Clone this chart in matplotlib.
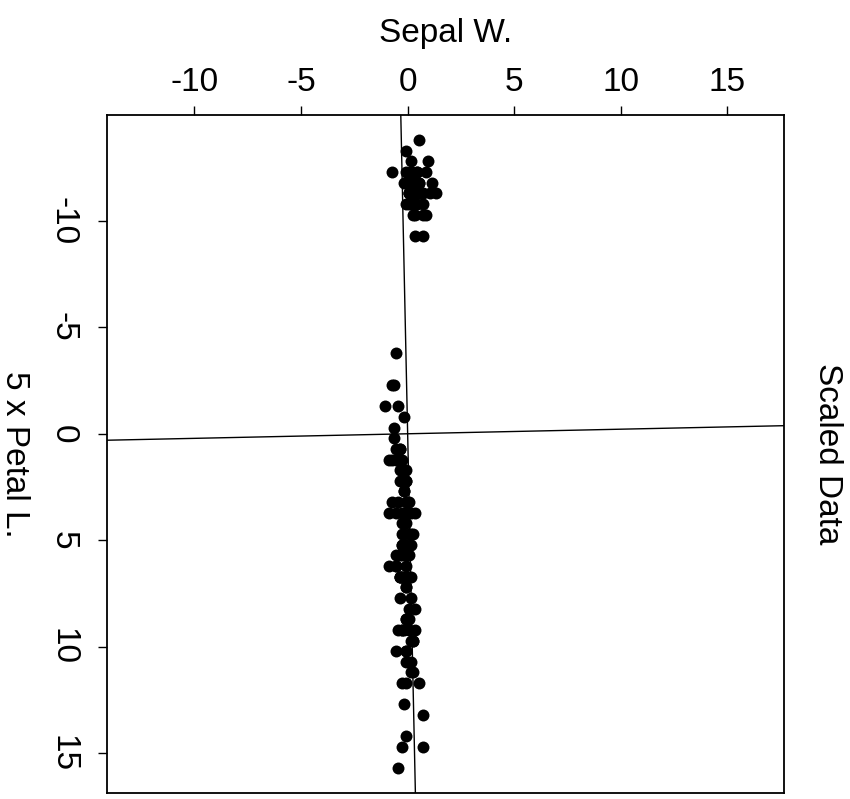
import numpy as np
import matplotlib.pyplot as plt

plt.rcParams['font.family'] = ['Liberation Sans', 'DejaVu Sans']

# iris: Sepal.Width and Petal.Length (cm), 150 flowers
sepal_w = [3.5, 3.0, 3.2, 3.1, 3.6, 3.9, 3.4, 3.4, 2.9, 3.1, 3.7, 3.4, 3.0, 3.0, 4.0, 4.4, 3.9, 3.5, 3.8, 3.8,
           3.4, 3.7, 3.6, 3.3, 3.4, 3.0, 3.4, 3.5, 3.4, 3.2, 3.1, 3.4, 4.1, 4.2, 3.1, 3.2, 3.5, 3.6, 3.0, 3.4,
           3.5, 2.3, 3.2, 3.5, 3.8, 3.0, 3.8, 3.2, 3.7, 3.3,
           3.2, 3.2, 3.1, 2.3, 2.8, 2.8, 3.3, 2.4, 2.9, 2.7, 2.0, 3.0, 2.2, 2.9, 2.9, 3.1, 3.0, 2.7, 2.2, 2.5,
           3.2, 2.8, 2.5, 2.8, 2.9, 3.0, 2.8, 3.0, 2.9, 2.6, 2.4, 2.4, 2.7, 2.7, 3.0, 3.4, 3.1, 2.3, 3.0, 2.5,
           2.6, 3.0, 2.6, 2.3, 2.7, 3.0, 2.9, 2.9, 2.5, 2.8,
           3.3, 2.7, 3.0, 2.9, 3.0, 3.0, 2.5, 2.9, 2.5, 3.6, 3.2, 2.7, 3.0, 2.5, 2.8, 3.2, 3.0, 3.8, 2.6, 2.2,
           3.2, 2.8, 2.8, 2.7, 3.3, 3.2, 2.8, 3.0, 2.8, 3.0, 2.8, 3.8, 2.8, 2.8, 2.6, 3.0, 3.4, 3.1, 3.0, 3.1,
           3.1, 3.1, 2.7, 3.2, 3.3, 3.0, 2.5, 3.0, 3.4, 3.0]
petal_l = [1.4, 1.4, 1.3, 1.5, 1.4, 1.7, 1.4, 1.5, 1.4, 1.5, 1.5, 1.6, 1.4, 1.1, 1.2, 1.5, 1.3, 1.4, 1.7, 1.5,
           1.7, 1.5, 1.0, 1.7, 1.9, 1.6, 1.6, 1.5, 1.4, 1.6, 1.6, 1.5, 1.5, 1.4, 1.5, 1.2, 1.3, 1.4, 1.3, 1.5,
           1.3, 1.3, 1.3, 1.6, 1.9, 1.4, 1.6, 1.4, 1.5, 1.4,
           4.7, 4.5, 4.9, 4.0, 4.6, 4.5, 4.7, 3.3, 4.6, 3.9, 3.5, 4.2, 4.0, 4.7, 3.6, 4.4, 4.5, 4.1, 4.5, 3.9,
           4.8, 4.0, 4.9, 4.7, 4.3, 4.4, 4.8, 5.0, 4.5, 3.5, 3.8, 3.7, 3.9, 5.1, 4.5, 4.5, 4.7, 4.4, 4.1, 4.0,
           4.4, 4.6, 4.0, 3.3, 4.2, 4.2, 4.2, 4.3, 3.0, 4.1,
           6.0, 5.1, 5.9, 5.6, 5.8, 6.6, 4.5, 6.3, 5.8, 6.1, 5.1, 5.3, 5.5, 5.0, 5.1, 5.3, 5.5, 6.7, 6.9, 5.0,
           5.7, 4.9, 6.7, 4.9, 5.7, 6.0, 4.8, 4.9, 5.6, 5.8, 6.1, 6.4, 5.6, 5.1, 5.6, 6.1, 5.6, 5.5, 4.8, 5.4,
           5.6, 5.1, 5.1, 5.9, 5.7, 5.2, 5.0, 5.2, 5.4, 5.1]
petal_scale = 5

# axis directions drawn through the origin (dx, dy)
line_dirs = [(0.0215, 1.0), (1.0, -0.0215)]

ticks = [-10, -5, 0, 5, 10, 15]

sw = np.array(sepal_w)
pl = np.array(petal_l)
x = sw - sw.mean()
y = petal_scale * (pl - pl.mean())

fig = plt.figure(figsize=(8.5, 7.99), dpi=100)
ax = fig.add_axes([107/850, 1 - 793/799, (784 - 107)/850, (793 - 115)/799])

ax.plot(x, y, 'o', color='black', markersize=8.6, markeredgewidth=0)
for dx, dy in line_dirs:
  ax.axline((0, 0), (dx, dy), color='black', lw=1.0)

ax.set_xlim(-14.1, 17.65)
ax.set_ylim(16.87, -14.97)

ax.xaxis.tick_top()
ax.xaxis.set_label_position('top')
ax.set_xticks(ticks)
ax.set_yticks(ticks)
ax.set_xticklabels([str(t) for t in ticks])
ax.set_yticklabels([str(t) for t in ticks], rotation=-90, va='center')
ax.tick_params(axis='both', length=6.5, width=1.0, labelsize=24)
ax.tick_params(axis='x', pad=6)
ax.tick_params(axis='y', pad=14)
ax.set_xlabel('Sepal W.', fontsize=24, labelpad=18)
ax.set_ylabel('5 x Petal L.', fontsize=24, rotation=-90, va='center', labelpad=24)
ax.text(1.064, 0.5, 'Scaled Data', transform=ax.transAxes, fontsize=24,
        rotation=-90, ha='center', va='center')

for sp in ax.spines.values():
  sp.set_linewidth(1.3)

fig.savefig('out.png', dpi=100)
